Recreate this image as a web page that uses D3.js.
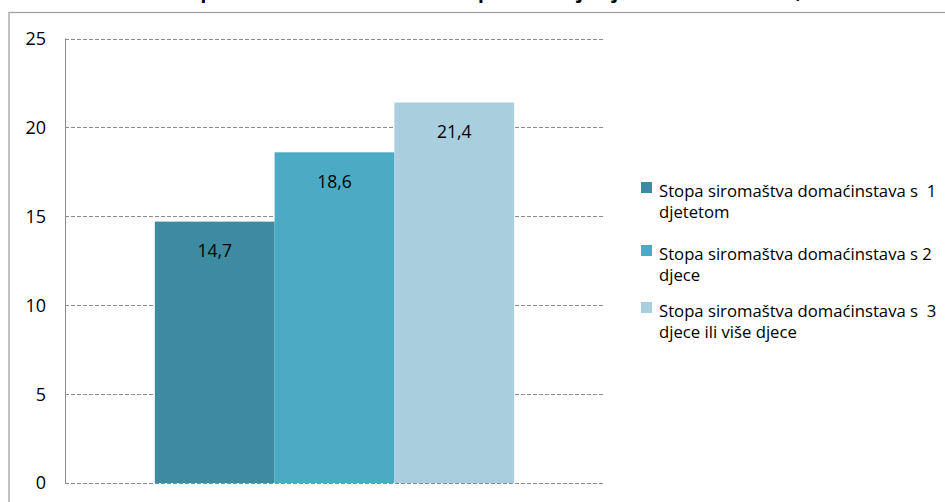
<!DOCTYPE html>
<html>
<head>
<meta charset="utf-8">
<script src="https://cdn.jsdelivr.net/npm/d3@7"></script>
<style>
  html, body { margin: 0; padding: 0; background: #fff; }
  svg { display: block; }
  text { font-family: "Open Sans", Lato, sans-serif; fill: #000; white-space: pre; }
</style>
</head>
<body>
<svg id="chart" width="945" height="502"></svg>
<script>
// ---- data ----
const categories = ["Stopa siromaštva domaćinstava s  1 djetetom",
                    "Stopa siromaštva domaćinstava s 2 djece",
                    "Stopa siromaštva domaćinstava s  3 djece ili više djece"];
const values = [14.7, 18.6, 21.4];
const valueLabels = ["14,7", "18,6", "21,4"];
const legendLines = [["Stopa siromaštva domaćinstava s  1", "djetetom"],
                     ["Stopa siromaštva domaćinstava s 2", "djece"],
                     ["Stopa siromaštva domaćinstava s  3", "djece ili više djece"]];
const yTicks = [0, 5, 10, 15, 20, 25];
const colors = ["#3C8BA2", "#4BABC5", "#A9CEDD"];
const titleText = "Stopa siromaštva domaćinstava prema broju djece u domaćinstvu, 2011.";

// ---- layout ----
const svg = d3.select("#chart");
const plot = { left: 65, right: 604, top: 38.5, bottom: 483 };

// outer frame (chart area border, clipped by viewport)
svg.append("rect")
  .attr("x", 9).attr("y", 12.5)
  .attr("width", 960).attr("height", 520)
  .attr("fill", "none").attr("stroke", "#a0a0a0").attr("stroke-width", 1.3);

// title (cut off at the top, as in the reference)
svg.append("text")
  .attr("x", 170).attr("y", -2)
  .attr("text-anchor", "start")
  .style("font-weight", "bold").style("font-size", "19px")
  .text(titleText);

const y = d3.scaleLinear().domain([0, 25]).range([plot.bottom, plot.top]);
const xOuter = d3.scaleBand().domain(["g"]).range([plot.left, plot.right]).paddingInner(0).paddingOuter(0.25);
const x = d3.scaleBand().domain(categories).range([xOuter("g"), xOuter("g") + xOuter.bandwidth()]).padding(0);

// gridlines
svg.append("g").selectAll("line").data(yTicks).join("line")
  .attr("x1", plot.left).attr("x2", plot.right)
  .attr("y1", d => Math.round(y(d)) + 0.5).attr("y2", d => Math.round(y(d)) + 0.5)
  .attr("stroke", "#8c8c8c").attr("stroke-width", 1)
  .attr("stroke-dasharray", "4,2");

// y axis line
svg.append("line")
  .attr("x1", plot.left + 0.5).attr("x2", plot.left + 0.5)
  .attr("y1", y(25)).attr("y2", y(0))
  .attr("stroke", "#8c8c8c").attr("stroke-width", 1);

// y tick labels
svg.append("g").selectAll("text").data(yTicks).join("text")
  .attr("x", 46).attr("y", d => y(d))
  .attr("dy", "0.36em")
  .attr("text-anchor", "end")
  .style("font-size", "18px")
  .text(d => d);

// bars
svg.append("g").selectAll("rect").data(values).join("rect")
  .attr("x", (d, i) => x(categories[i]))
  .attr("width", x.bandwidth())
  .attr("y", d => y(d))
  .attr("height", d => y(0) - y(d))
  .attr("fill", (d, i) => colors[i]);

// value labels
svg.append("g").selectAll("text").data(values).join("text")
  .attr("x", (d, i) => x(categories[i]) + x.bandwidth() / 2)
  .attr("y", d => y(d) + 29)
  .attr("dy", "0.36em")
  .attr("text-anchor", "middle")
  .style("font-size", "17.5px")
  .text((d, i) => valueLabels[i]);

// legend
const legendTop = [182, 245, 302];
const lg = svg.append("g");
legendLines.forEach((lines, i) => {
  lg.append("rect")
    .attr("x", 641).attr("y", legendTop[i])
    .attr("width", 11).attr("height", 11)
    .attr("fill", colors[i]);
  lines.forEach((ln, j) => {
    lg.append("text")
      .attr("x", 659).attr("y", legendTop[i] + 15 + j * 21)
      .style("font-size", "16.7px")
      .text(ln);
  });
});
</script>
</body>
</html>
